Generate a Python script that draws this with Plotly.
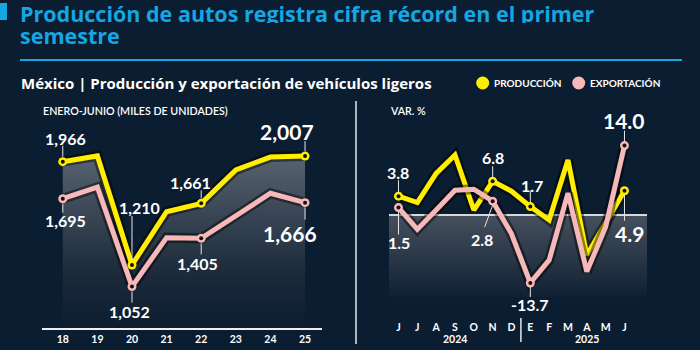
import plotly.graph_objects as go

# ---------------- data ----------------
years = [2018, 2019, 2020, 2021, 2022, 2023, 2024, 2025]
year_labels = ['18', '19', '20', '21', '22', '23', '24', '25']
prod_h1 = [1966, 2008, 1210, 1600, 1661, 1905, 2000, 2007]
exp_h1 = [1695, 1779, 1052, 1410, 1405, 1565, 1735, 1666]

month_idx = list(range(13))
months = ['J', 'J', 'A', 'S', 'O', 'N', 'D', 'E', 'F', 'M', 'A', 'M', 'J']
prod_var = [3.8, 2.5, 8.4, 12.1, 1.0, 6.8, 4.8, 1.7, -1.0, 11.1, -8.1, -1.8, 4.9]
exp_var = [1.5, -2.9, 1.0, 5.0, 5.2, 2.8, -3.8, -13.7, -9.1, 4.4, -11.4, -2.4, 14.0]
year_groups = ['2024', '2025']
year_group_pos = [3, 10]

# labelled points: (index, text, dx, dy, leader start, leader end, big)
left_prod_labels = [(0, '1,966', 3, -23, -5, -16, False), (2, '1,210', 8, -58, -5, -49, False),
                    (4, '1,661', -11, -21, -5, -13, False), (7, '2,007', -18, -25, -5, -15, True)]
left_exp_labels = [(0, '1,695', 3, 22, 5, 14, False), (2, '1,052', -2, 25, 5, 16, False),
                   (4, '1,405', -4, 25, 5, 16, False), (7, '1,666', -15, 31, 5, 17, True)]
right_prod_labels = [(0, '3.8', 0, -24, -4, -16, False), (5, '6.8', 0, -24, -4, -15, False),
                     (7, '1.7', 2, -21, -4, -16, False), (12, '4.9', 5, 43, 4, 30, True)]
right_exp_labels = [(0, '1.5', 1, 35, 4, 27, False), (5, '2.8', -11, 38, 4, 26, False),
                    (7, '-13.7', 0, 22, 4, 14, False), (12, '14.0', 0, -25, -4, -15, True)]

# ---------------- style ----------------
BG = '#0b1d30'
YEL = '#ffee00'
PINK = '#f6b8b8'
CYAN = '#16a6e1'
FONT = 'Lato'
TFONT = 'Open Sans'
W, H = 700, 350

# axis geometry (pixels)
L_X0, L_X1, L_Y0, L_Y1 = 42, 322, 120, 328
R_X0, R_X1, R_Y0, R_Y1 = 389, 647, 100, 297
l_xrange = [2017.40, 2025.49]
l_yrange = [749, 2271]
r_xrange = [-0.504, 13.196]
r_yrange = [-16.53, 23.19]

fig = go.Figure()

# ---- left chart ----
fig.add_trace(go.Scatter(x=years, y=prod_h1, mode='lines', line=dict(width=0),
                         fill='tozeroy',
                         fillgradient=dict(type='vertical', start=l_yrange[0], stop=max(prod_h1),
                                           colorscale=[[0, BG], [0.35, '#1e2c3c'], [1, '#58626f']]),
                         xaxis='x', yaxis='y', hoverinfo='skip'))
for ys, col in [(exp_h1, PINK), (prod_h1, YEL)]:
    fig.add_trace(go.Scatter(x=years, y=ys, mode='lines', line=dict(color='rgba(0,0,0,0.45)', width=10),
                             xaxis='x', yaxis='y', hoverinfo='skip'))
    fig.add_trace(go.Scatter(x=years, y=ys, mode='lines', line=dict(color=col, width=5),
                             xaxis='x', yaxis='y'))

# ---- right chart ----
fig.add_trace(go.Scatter(x=r_xrange, y=[r_yrange[0]] * 2, mode='lines', line=dict(width=0),
                         xaxis='x2', yaxis='y2', hoverinfo='skip'))
fig.add_trace(go.Scatter(x=r_xrange, y=[0, 0], mode='lines', line=dict(color='#d5d9de', width=2),
                         fill='tonexty',
                         fillgradient=dict(type='vertical', start=r_yrange[0], stop=0,
                                           colorscale=[[0, '#0f2033'], [1, '#46505d']]),
                         xaxis='x2', yaxis='y2', hoverinfo='skip'))
for ys, col in [(prod_var, YEL), (exp_var, PINK)]:
    fig.add_trace(go.Scatter(x=month_idx, y=ys, mode='lines', line=dict(color='rgba(0,0,0,0.45)', width=10),
                             xaxis='x2', yaxis='y2', hoverinfo='skip'))
    fig.add_trace(go.Scatter(x=month_idx, y=ys, mode='lines', line=dict(color=col, width=5),
                             xaxis='x2', yaxis='y2'))

# ---- markers on labelled points ----
def add_markers(xs, ys, labels, col, xa, ya):
    px = [xs[l[0]] for l in labels]
    py = [ys[l[0]] for l in labels]
    fig.add_trace(go.Scatter(x=px, y=py, mode='markers', marker=dict(color=col, size=9),
                             xaxis=xa, yaxis=ya, hoverinfo='skip'))
    fig.add_trace(go.Scatter(x=px, y=py, mode='markers', marker=dict(color='#111111', size=4),
                             xaxis=xa, yaxis=ya, hoverinfo='skip'))

add_markers(years, exp_h1, left_exp_labels, PINK, 'x', 'y')
add_markers(years, prod_h1, left_prod_labels, YEL, 'x', 'y')
add_markers(month_idx, prod_var, right_prod_labels, YEL, 'x2', 'y2')
add_markers(month_idx, exp_var, right_exp_labels, PINK, 'x2', 'y2')

annotations = []
shapes = []

def add_labels(xs, ys, labels, xr, yr):
    for idx, txt, dx, dy, l0, l1, big in labels:
        annotations.append(dict(x=xs[idx], y=ys[idx], xref=xr, yref=yr, text=txt, showarrow=False,
                                xshift=dx, yshift=-dy, xanchor='center', yanchor='middle',
                                font=dict(family=FONT, size=21 if big else 16, color='white', weight='bold')))
        x_end = -8 if txt == '2.8' else 0
        shapes.append(dict(type='line', xref=xr, yref=yr, xsizemode='pixel', xanchor=xs[idx],
                           ysizemode='pixel', yanchor=ys[idx], x0=0, x1=x_end, y0=-l0, y1=-l1,
                           line=dict(color='#e6e6e6', width=1)))

add_labels(years, prod_h1, left_prod_labels, 'x', 'y')
add_labels(years, exp_h1, left_exp_labels, 'x', 'y')
add_labels(month_idx, prod_var, right_prod_labels, 'x2', 'y2')
add_labels(month_idx, exp_var, right_exp_labels, 'x2', 'y2')

def px_x(p):
    return p / W

def px_y(p):
    return 1 - p / H

# title
for yc, txt in [(13, 'Producción de autos registra cifra récord en el primer'), (35, 'semestre')]:
    annotations.append(dict(x=px_x(19), y=px_y(yc), xref='paper', yref='paper', xanchor='left', yanchor='middle',
                            text=txt, showarrow=False, height=20, borderpad=0, valign='middle',
                            font=dict(family=TFONT, size=21.5, color=CYAN, weight='bold')))
shapes.append(dict(type='rect', xref='paper', yref='paper', x0=px_x(0), x1=px_x(7), y0=px_y(20), y1=px_y(3),
                   fillcolor=CYAN, line=dict(width=0)))
shapes.append(dict(type='line', xref='paper', yref='paper', x0=px_x(20), x1=px_x(682), y0=px_y(60), y1=px_y(60),
                   line=dict(color=CYAN, width=2)))
# subtitle
annotations.append(dict(x=px_x(19), y=px_y(83), xref='paper', yref='paper', xanchor='left', yanchor='middle',
                        text='México | Producción y exportación de vehículos ligeros', showarrow=False,
                        font=dict(family=TFONT, size=15, color='white', weight='bold')))
# legend
for cx, col, txt in [(482.7, YEL, 'PRODUCCIÓN'), (578.7, PINK, 'EXPORTACIÓN')]:
    shapes.append(dict(type='circle', xref='paper', yref='paper', x0=px_x(cx - 6.5), x1=px_x(cx + 6.5),
                       y0=px_y(83 + 6.5), y1=px_y(83 - 6.5), fillcolor=col, line=dict(width=0)))
    annotations.append(dict(x=px_x(cx + 9), y=px_y(83), xref='paper', yref='paper', xanchor='left',
                            yanchor='middle', text=txt, showarrow=False,
                            font=dict(family=FONT, size=10, color='white', weight='bold')))
# axis captions
annotations.append(dict(x=px_x(41), y=px_y(110), xref='paper', yref='paper', xanchor='left', yanchor='middle',
                        text='ENERO-JUNIO (MILES DE UNIDADES)', showarrow=False,
                        font=dict(family=FONT, size=10.7, color='white', weight=600)))
annotations.append(dict(x=px_x(388), y=px_y(110), xref='paper', yref='paper', xanchor='left', yanchor='middle',
                        text='VAR. %', showarrow=False,
                        font=dict(family=FONT, size=10.7, color='white', weight=600)))
# year groups under months
for pos, txt in zip(year_group_pos, year_groups):
    annotations.append(dict(x=pos, y=px_y(339), xref='x2', yref='paper', xanchor='center', yanchor='middle',
                            text=txt, showarrow=False,
                            font=dict(family=FONT, size=10.5, color='white', weight='bold')))
# separators
shapes.append(dict(type='line', xref='paper', yref='paper', x0=px_x(356), x1=px_x(356), y0=px_y(101), y1=px_y(344),
                   line=dict(color='#e6e6e6', width=1.5)))
shapes.append(dict(type='line', xref='x2', yref='paper', x0=6.5, x1=6.5, y0=px_y(318), y1=px_y(342),
                   line=dict(color='#e6e6e6', width=1.5)))

fig.update_layout(
    width=W, height=H, margin=dict(l=0, r=0, t=0, b=0),
    paper_bgcolor=BG, plot_bgcolor=BG, showlegend=False,
    annotations=annotations, shapes=shapes,
    xaxis=dict(domain=[px_x(L_X0), px_x(L_X1)], range=l_xrange, showgrid=False, zeroline=False,
               showline=True, linecolor='#eeeeee', linewidth=2, tickvals=years, ticktext=year_labels,
               ticks='', ticklabelstandoff=0,
               tickfont=dict(family=FONT, size=10.5, color='white', weight='bold'), fixedrange=True),
    yaxis=dict(domain=[px_y(L_Y1), px_y(L_Y0)], range=l_yrange, showgrid=False, zeroline=False,
               showticklabels=False, fixedrange=True),
    xaxis2=dict(domain=[px_x(R_X0), px_x(R_X1)], range=r_xrange, showgrid=False, zeroline=False,
                showline=False, tickvals=month_idx, ticktext=months, ticks='', ticklabelstandoff=22,
                tickfont=dict(family=FONT, size=10.5, color='white', weight='bold'),
                anchor='y2', fixedrange=True),
    yaxis2=dict(domain=[px_y(R_Y1), px_y(R_Y0)], range=r_yrange, showgrid=False, zeroline=False,
                showticklabels=False, anchor='x2', fixedrange=True),
)

fig.write_html('out.html')
